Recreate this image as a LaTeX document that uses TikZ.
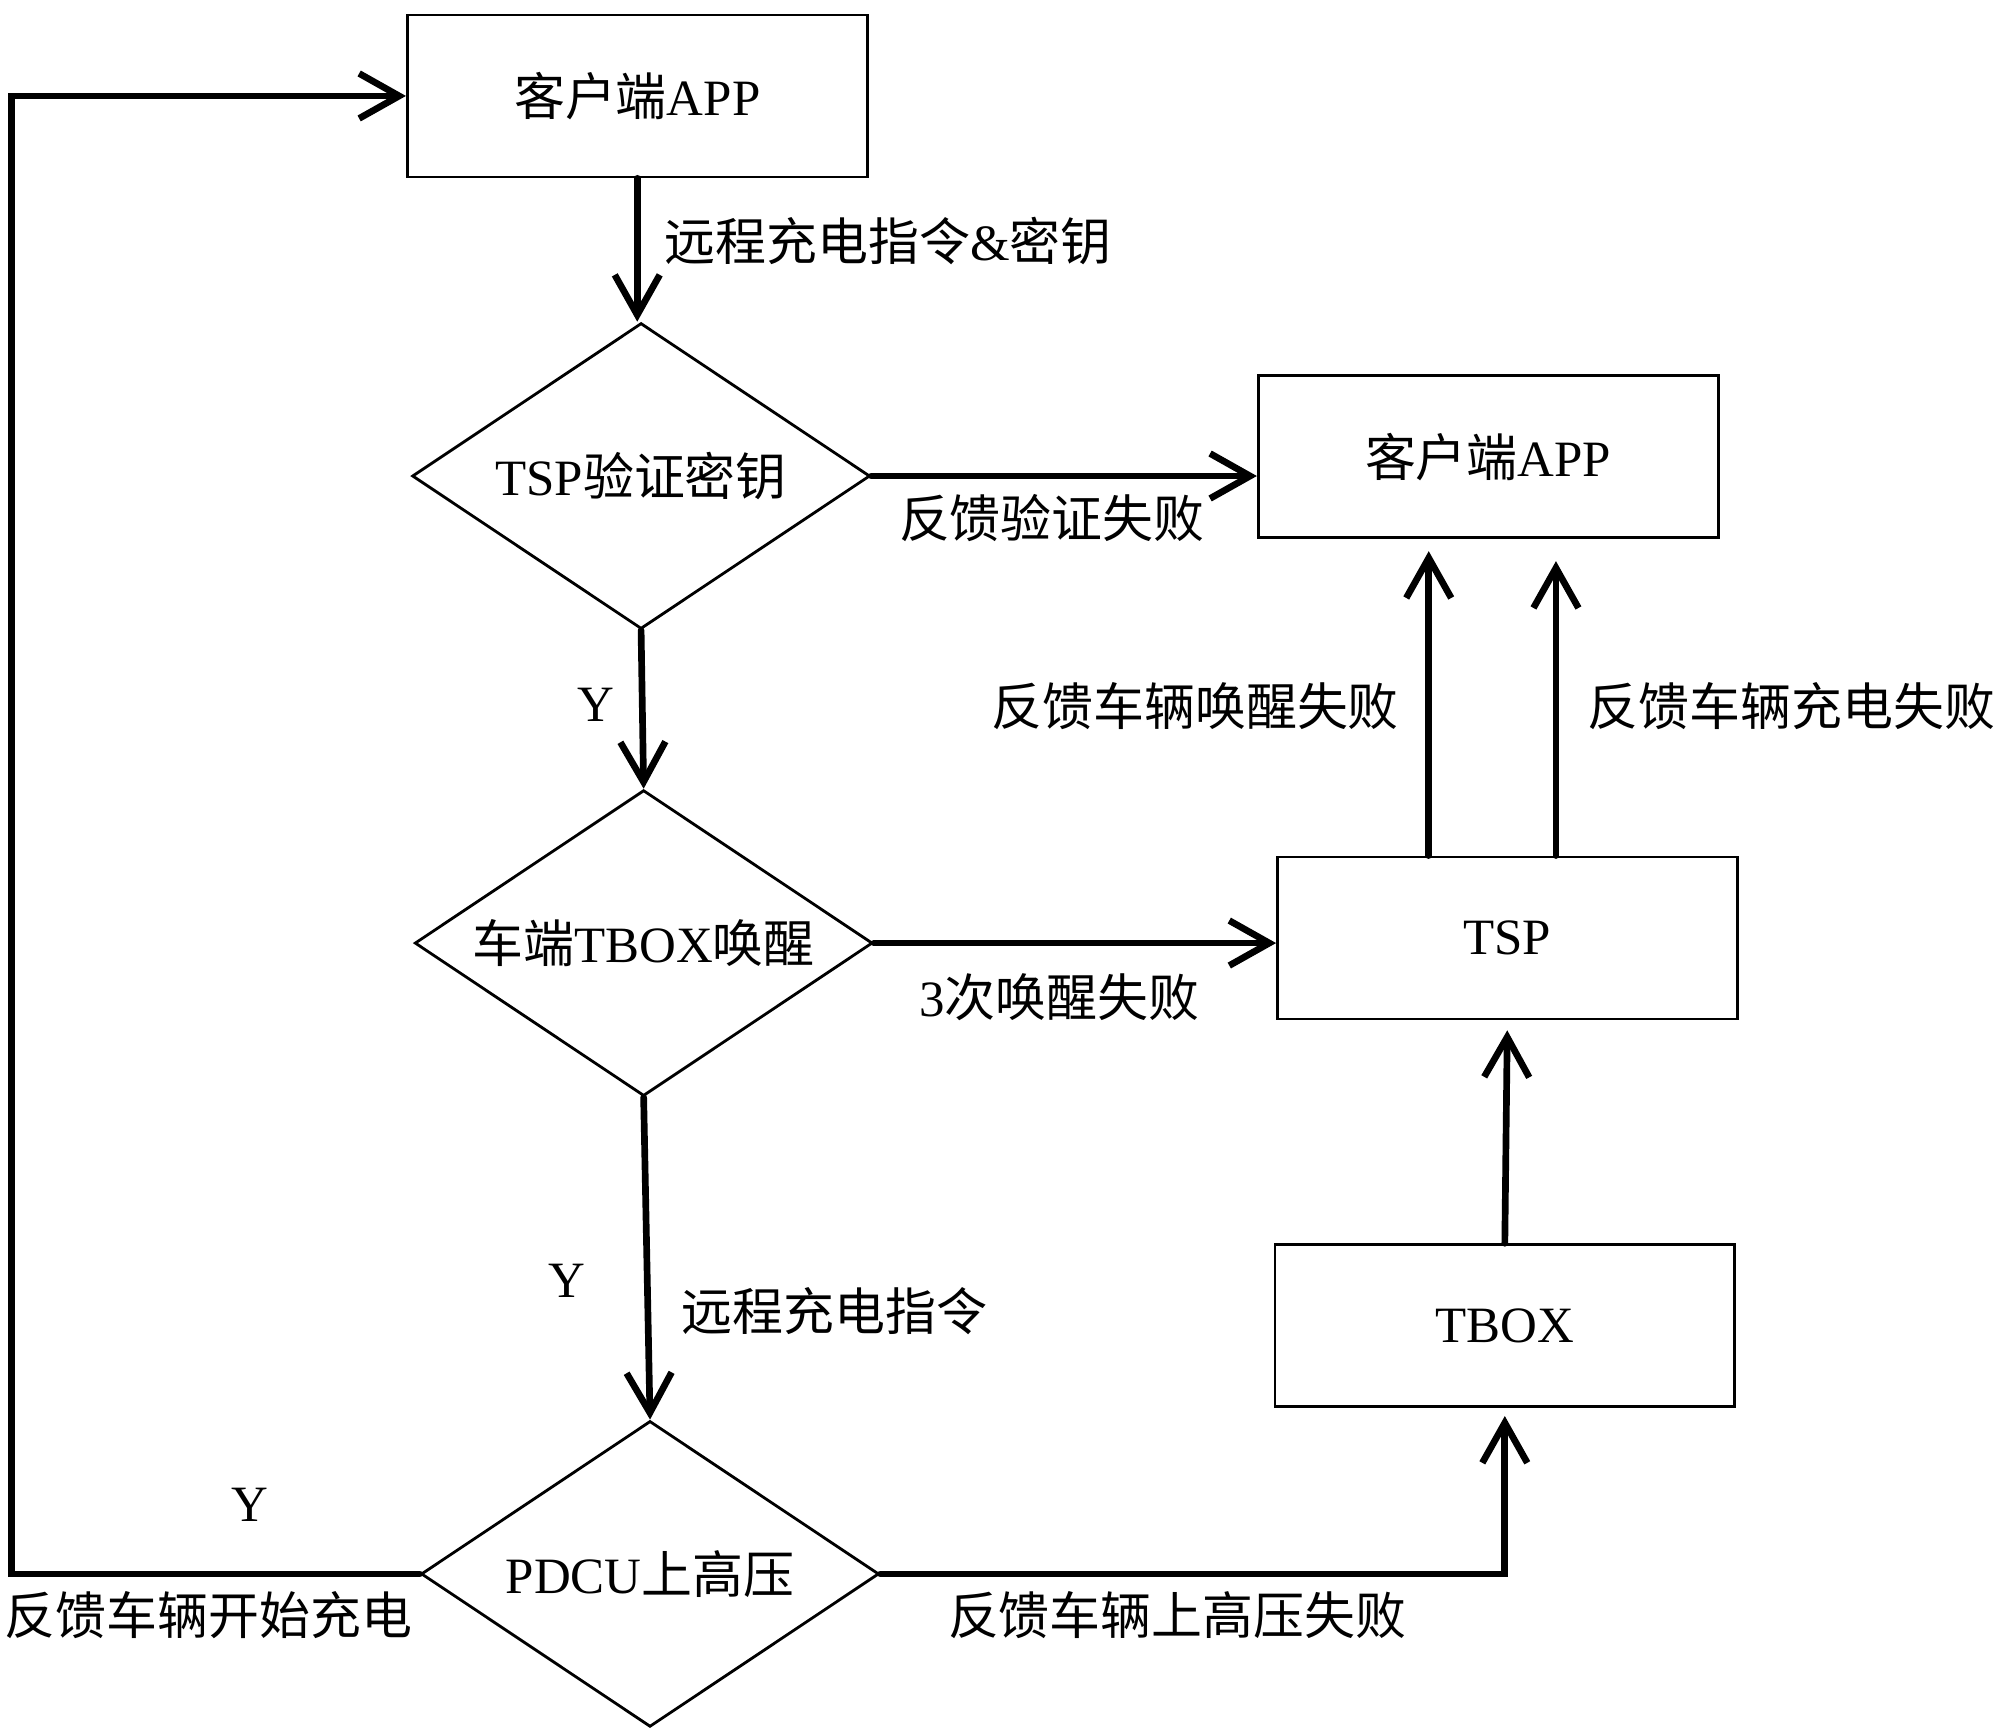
\documentclass[tikz,border=0pt]{standalone}
\usepackage{fontspec}
\setmainfont{Liberation Serif}
\newfontfamily\cjk{Noto Sans CJK SC}
\usetikzlibrary{shapes.geometric,arrows.meta,calc}

\begin{document}
\begin{tikzpicture}[x=0.0128cm,y=-0.0128cm,
	font=\fontsize{14.5}{17}\selectfont,
	box/.style={draw,line width=0.8pt,minimum width=4.6cm,minimum height=1.62cm,inner sep=0pt},
	decision/.style={draw,diamond,shape aspect=1.5,line width=0.8pt,minimum width=4.58cm,minimum height=3.06cm,inner sep=0pt},
	flow/.style={line width=1.9pt,line cap=round,-{Straight Barb[length=0.4cm,width=0.45cm]}},
	lbl/.style={inner sep=0pt}]
			\useasboundingbox (0,0) rectangle (1563,1354);
			% left column
			\node[box] (app) at (498,75) {{\cjk 客户端}APP};
			\node[decision] (verify) at (501,372) {TSP{\cjk 验证密钥}};
			\node[decision] (wake) at (503,737) {{\cjk 车端}TBOX{\cjk 唤醒}};
			\node[decision] (pdcu) at (508,1230) {PDCU{\cjk 上高压}};
			% right column
			\node[box] (fbapp) at (1163,357) {{\cjk 客户端}APP};
			\node[box] (tsp) at (1178,733) {TSP};
			\node[box] (tbox) at (1176,1036) {TBOX};
			\coordinate (loop) at (9,1228);
			\coordinate (up1) at ($(tsp.north west)!0.33!(tsp.north east)$);
			\coordinate (up2) at ($(tsp.north west)!0.605!(tsp.north east)$);
			% connectors
			\draw[flow] (app.south) -- (app.south |- verify.north);
			\draw[flow] (verify.east) -- (fbapp.west |- verify.east);
			\draw[flow] (verify.south) -- (wake.north);
			\draw[flow] (wake.east) -- (tsp.west |- wake.east);
			\draw[flow] (wake.south) -- (pdcu.north);
			\draw[flow,shorten >=0.1cm] (tbox.north) -- (tsp.south);
			\draw[flow,shorten >=0.08cm] (pdcu.east) -| (tbox.south);
			\draw[flow] (pdcu.west) -- (pdcu.west -| loop) |- (app.west);
			\draw[flow,shorten >=0.12cm] (up1) -- (up1 |- fbapp.south);
			\draw[flow,shorten >=0.22cm] (up2) -- (up2 |- fbapp.south);
			% labels
			\node[lbl] (l1) at (694,188) {{\cjk 远程充电指令}\&{\cjk 密钥}};
			\node[lbl] (l2) at (822,405) {\cjk 反馈验证失败};
			\node[lbl] (y1) at (466,551) {Y};
			\node[lbl] (l3) at (828,779) {3{\cjk 次唤醒失败}};
			\node[lbl] (l4) at (934,552) {\cjk 反馈车辆唤醒失败};
			\node[lbl] (l5) at (1400,552) {\cjk 反馈车辆充电失败};
			\node[lbl] (y2) at (443,1001) {Y};
			\node[lbl] (l6) at (652,1025) {\cjk 远程充电指令};
			\node[lbl] (l7) at (920,1262) {\cjk 反馈车辆上高压失败};
			\node[lbl] (y3) at (195,1176) {Y};
			\node[lbl] (l8) at (163,1262) {\cjk 反馈车辆开始充电};
		\end{tikzpicture}
\end{document}
